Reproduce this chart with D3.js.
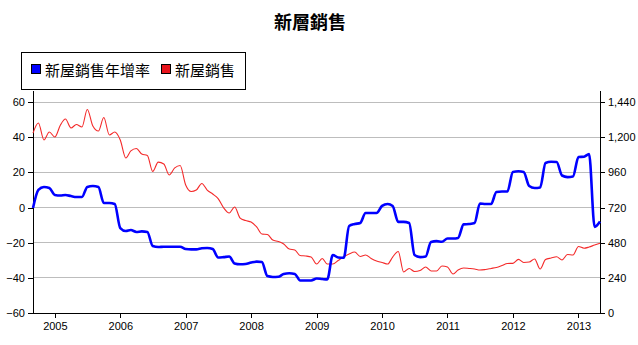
<!DOCTYPE html>
<html><head><meta charset="utf-8">
<script src="https://cdn.jsdelivr.net/npm/d3@7"></script>
<style>
body{margin:0;background:#fff;}
svg{display:block;}
.tick text{font-family:"Liberation Sans",Arial,sans-serif;font-size:11px;fill:#000;}
</style></head>
<body><svg id="c" width="638" height="345"></svg>
<script>
const title = "新層銷售";
const seriesNames = ["新屋銷售年增率", "新屋銷售"];
const startMonth = [2004, 8];   // Sep 2004
const endMonth = [2013, 4];     // May 2013
const leftTicks = [-60, -40, -20, 0, 20, 40, 60];
const rightTicks = [0, 240, 480, 720, 960, 1200, 1440];
const yearTicks = [2005, 2006, 2007, 2008, 2009, 2010, 2011, 2012, 2013];
const yoy = [-0.3,10,11.7,11.1,7.1,6.8,7.1,6.5,6.0,6.0,
  11.7,12.2,11.7,2.6,2.6,2.0,-11.7,-13.4,-12.8,-13.9,
  -13.6,-13.9,-21.9,-22.5,-22.3,-22.3,-22.3,-22.3,-23.6,-23.8,
  -23.8,-23.2,-23.0,-23.6,-28.4,-28.2,-27.9,-31.8,-32.3,-32.1,
  -31.3,-30.8,-31.0,-39.0,-39.5,-39.4,-37.8,-37.4,-37.8,-41.5,
  -41.5,-41.5,-40.4,-40.7,-40.9,-27.0,-28.4,-28.6,-10.5,-9.4,
  -8.8,-3.1,-3.1,-3.1,0.9,2.0,0.9,-8.2,-8.2,-8.8,
  -27.0,-28.2,-27.9,-19.6,-19.1,-19.5,-17.6,-17.6,-17.3,-9.6,
  -9.4,-8.8,2.3,2.0,2.0,8.8,9.1,9.1,20.2,20.6,
  20.2,12.2,11.1,11.4,25.3,26.0,25.9,18.2,17.3,17.6,
  28.7,28.9,30.4,-11,-8];
const sales = [1228,1297,1181,1235,1201,1283,1324,1263,1286,1269,
  1389,1276,1242,1334,1215,1235,1181,1058,1106,1123,
  1085,1075,966,1030,1017,942,990,1007,874,829,
  839,884,839,812,781,717,682,723,648,631,
  621,587,539,536,498,488,471,437,430,392,
  389,382,334,372,334,334,358,384,403,416,
  386,396,372,355,345,334,382,420,280,304,
  283,290,314,287,287,321,314,266,293,307,
  304,300,293,297,304,311,324,338,339,366,
  345,348,369,300,365,375,384,362,399,396,
  454,442,450,464,476];

const blue = "#0000ff", red = "#f42a2a";
const svg = d3.select("#c");
const L = 33, R = 600, T = 102, B = 313, axisTop = 91;
const t0 = new Date(startMonth[0], startMonth[1], 1);
const t1 = new Date(endMonth[0], endMonth[1], 1);
const months = d3.timeMonth.range(t0, d3.timeDay.offset(t1, 1));

const x = d3.scaleTime().domain([t0, t1]).range([L, R]);
const yL = d3.scaleLinear().domain([-60, 60]).range([B, T]);
const yR = d3.scaleLinear().domain([0, 1440]).range([B, T]);

// grid
svg.append("g").selectAll("line").data(leftTicks.filter(d => d !== -60)).join("line")
  .attr("x1", L).attr("x2", R).attr("y1", d => yL(d)).attr("y2", d => yL(d))
  .attr("stroke", "#bdbdbd").attr("stroke-width", 1).attr("shape-rendering", "crispEdges");

// axes
const gl = svg.append("g").attr("transform", `translate(${L},0)`)
  .call(d3.axisLeft(yL).tickValues(leftTicks).tickSizeOuter(0).tickSize(5).tickPadding(3));
const gr = svg.append("g").attr("transform", `translate(${R},0)`)
  .call(d3.axisRight(yR).tickValues(rightTicks).tickFormat(d3.format(",")).tickSizeOuter(0).tickSize(5).tickPadding(3));
const gb = svg.append("g").attr("transform", `translate(0,${B})`)
  .call(d3.axisBottom(x).tickValues(yearTicks.map(y => new Date(y, 0, 1))).tickFormat(d3.timeFormat("%Y")).tickSizeOuter(0).tickSize(5).tickPadding(4));
[gl, gr, gb].forEach(g => { g.select(".domain").remove(); g.selectAll(".tick line").attr("stroke", "#000").attr("shape-rendering", "crispEdges"); });
svg.append("line").attr("x1", L).attr("x2", L).attr("y1", axisTop).attr("y2", B).attr("stroke", "#000").attr("shape-rendering", "crispEdges");
svg.append("line").attr("x1", R).attr("x2", R).attr("y1", axisTop).attr("y2", B).attr("stroke", "#000").attr("shape-rendering", "crispEdges");
svg.append("line").attr("x1", L).attr("x2", R).attr("y1", B).attr("y2", B).attr("stroke", "#000").attr("shape-rendering", "crispEdges");

// lines
svg.append("path").datum(sales)
  .attr("fill", "none").attr("stroke", red).attr("stroke-width", 1.1)
  .attr("d", d3.line().x((d, i) => x(months[i])).y(d => yR(d)).curve(d3.curveMonotoneX));
svg.append("path").datum(yoy)
  .attr("fill", "none").attr("stroke", blue).attr("stroke-width", 2.6).attr("stroke-linejoin", "round")
  .attr("d", d3.line().x((d, i) => x(months[i])).y(d => yL(d)).curve(d3.curveMonotoneX));

// title
svg.append("text").attr("x", 310).attr("y", 29).attr("text-anchor", "middle")
  .attr("font-family", "'Noto Sans CJK TC', sans-serif").attr("font-weight", "bold").attr("font-size", 18)
  .text(title);

// legend
const lg = svg.append("g");
lg.append("rect").attr("x", 21.5).attr("y", 52.5).attr("width", 224).attr("height", 37)
  .attr("fill", "#fff").attr("stroke", "#000");
const items = [{n: seriesNames[0], c: blue, x: 31}, {n: seriesNames[1], c: "#e8141c", x: 161}];
items.forEach(it => {
  lg.append("rect").attr("x", it.x + 0.5).attr("y", 64.5).attr("width", 9).attr("height", 9)
    .attr("fill", it.c).attr("stroke", "#000");
  lg.append("text").attr("x", it.x + 14).attr("y", 75.5)
    .attr("font-family", "'Noto Sans CJK TC', sans-serif").attr("font-size", 15).text(it.n);
});
</script></body></html>
